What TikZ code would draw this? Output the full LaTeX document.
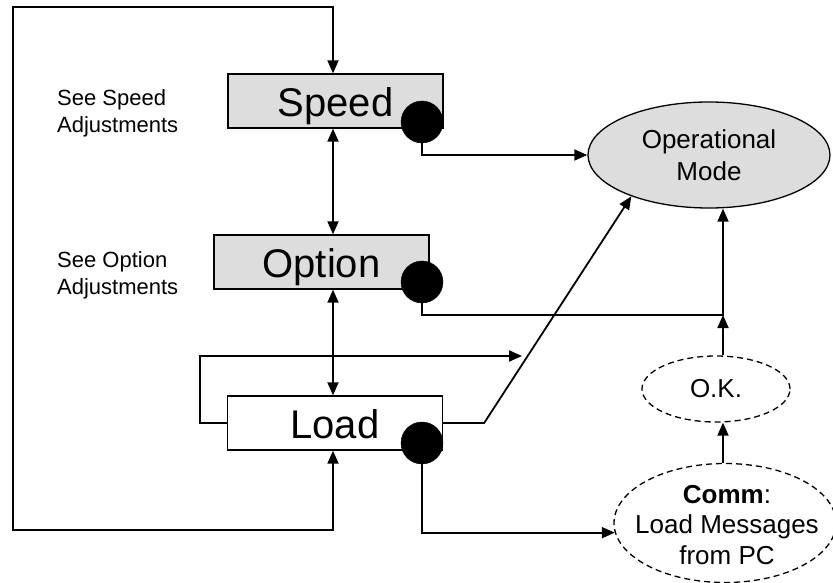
\documentclass[tikz,border=0pt]{standalone}
\usepackage{fontspec}
\setmainfont{Liberation Sans}
\usepackage{xcolor}
\usepackage{tikz}
\usetikzlibrary{positioning, shapes.geometric, calc, arrows.meta}
\definecolor{mdGray}{RGB}{221, 221, 221}
\definecolor{mdLine}{RGB}{0, 0, 0}
\tikzset{
    base/.style={
        align=center,
        text=black
    },
    state/.style={
        base,
        rectangle,
        draw=mdLine,
        line width=1.3pt,
        minimum width=215pt,
        minimum height=54pt,
        inner sep=0pt,
        text height=30pt,
        text depth=0pt,
        font=\fontsize{40}{44}\selectfont
    },
    knob/.style={
        circle,
        draw=mdLine,
        fill=mdLine,
        minimum size=42pt,
        inner sep=0pt
    },
    mode/.style={
        base,
        ellipse,
        draw=mdLine,
        line width=1.3pt,
        inner sep=0pt,
        font=\fontsize{26}{32}\selectfont
    },
    check/.style={
        mode,
        dash pattern=on 6pt off 4pt
    },
    note/.style={
        align=left,
        anchor=west,
        inner sep=0pt,
        font=\fontsize{22}{27}\selectfont
    },
    flow/.style={
        -{Triangle[length=13pt, width=11pt]},
        line width=1.8pt,
        color=mdLine
    },
    dflow/.style={
        flow,
        {Triangle[length=13pt, width=11pt]}-{Triangle[length=13pt, width=11pt]}
    }
}
\begin{document}
\begin{tikzpicture}[x=1pt, y=-1pt]
  \useasboundingbox (0,0) rectangle (833,583);

  % Modes
  \node[state, fill=mdGray, text height=32pt] (speed) at (335.5,101) {Speed};
  \node[state, fill=mdGray] (option) at (321.5,262) {Option};
  \node[state, fill=white] (load) at (335,423) {Load};

  % Dots
  \node[knob] (sdot) at (422,122) {};
  \node[knob] (odot) at (422,282) {};
  \node[knob] (ldot) at (422,443) {};

  % Notes
  \node[note] (snote) at (57,113) {See Speed\\Adjustments};
  \node[note] (onote) at (57,275) {See Option\\Adjustments};

  % Targets
  \node[mode, fill=mdGray, minimum width=242pt, minimum height=106pt] (opmode) at (709,155) {Operational\\Mode};
  \node[check, minimum width=148pt, minimum height=66pt] (ok) at (716,389) {O.K.};
  \node[check, minimum width=222pt, minimum height=119pt] (comm) at (725,523) {};
  \node[base, font=\fontsize{26}{30.5}\selectfont, inner sep=0pt] (commtext) at (727,525) {\textbf{Comm}:\\Load Messages\\from PC};

  \coordinate (junc) at (723,315);
  \coordinate (lend) at (522,356);

  % Arrows
  \draw[dflow] (speed.north -| 333,0) |- (13,7) |- (333,530) -- (load.south -| 333,0);
  \draw[dflow] (speed.south -| 333,0) -- (option.north -| 333,0);
  \draw[dflow] (option.south -| 333,0) -- (load.north -| 333,0);
  \draw[flow] (load.west) -- ++(-27,0) |- (lend);
  \draw[flow] (load.east) -- ++(41,0) -- (opmode.208);
  \draw[flow] (sdot.south) |- (opmode.west);
  \draw[flow] (odot.south) |- (junc) -- (junc |- opmode.south);
  \draw[flow] (ok.north -| junc) -- (junc);
  \draw[flow] (comm.north -| junc) -- (junc |- ok.south);
  \draw[flow] (ldot.south) |- (comm.185);
\end{tikzpicture}
\end{document}
